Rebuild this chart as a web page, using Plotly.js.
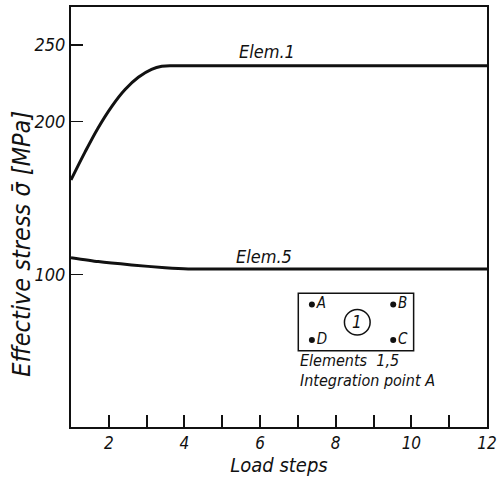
<!DOCTYPE html>
<html>
<head>
<meta charset="utf-8">
<script src="https://cdn.plot.ly/plotly-3.0.1.min.js"></script>
<style>html,body{margin:0;padding:0;background:#fff;}#chart{width:503px;height:477px;}</style>
</head>
<body>
<div id="chart"></div>
<script>
// Elem.1 curve (load step, effective stress MPa)
const elem1Steps = [1, 1.37, 1.72, 2.08, 2.43, 2.78, 3.13, 3.4, 3.7, 4, 6, 8, 10, 12];
const elem1Stress = [161.8, 180, 196, 210, 221, 229, 234.2, 236.2, 236.5, 236.5, 236.5, 236.5, 236.5, 236.5];
// Elem.5 curve
const elem5Steps = [1, 1.72, 2.6, 3.49, 4.1, 6, 8, 10, 12];
const elem5Stress = [110.9, 108.3, 106.1, 104.3, 103.5, 103.5, 103.5, 103.5, 103.5];
// axis ticks
const xTickVals = [2, 3, 4, 5, 6, 7, 8, 9, 10, 11, 12];
const xTickText = ["2", "", "4", "", "6", "", "8", "", "10", "", "12"];
const yTickVals = [100, 200, 250];
const yTickText = ["100", "200", "250"];
// inset sketch: integration points
const insetPtX = [7.37, 9.52, 7.37, 9.52];
const insetPtY = [80.2, 80.2, 57, 57];
const insetPtLabel = ["A", "B", "D", "C"];

const FONT = "'Liberation Sans Narrow', 'DejaVu Sans Condensed', 'Liberation Sans', sans-serif";
const ink = "#111";

const traces = [
  {x: elem1Steps, y: elem1Stress, mode: "lines", line: {color: ink, width: 3, shape: "spline", smoothing: 1}, hoverinfo: "skip"},
  {x: elem5Steps, y: elem5Stress, mode: "lines", line: {color: ink, width: 3, shape: "spline", smoothing: 0.6}, hoverinfo: "skip"},
  {x: insetPtX, y: insetPtY, mode: "markers+text", text: insetPtLabel, textposition: "middle right",
   marker: {color: ink, size: 6}, textfont: {family: FONT, size: 15, color: ink, style: "italic"}, hoverinfo: "skip"}
];

const layout = {
  width: 503, height: 477,
  margin: {l: 71, r: 16, t: 7, b: 50},
  paper_bgcolor: "#fff", plot_bgcolor: "#fff",
  showlegend: false,
  font: {family: FONT, color: ink, size: 18},
  xaxis: {
    range: [1, 12], showgrid: false, zeroline: false,
    showline: true, linecolor: ink, linewidth: 2, mirror: true,
    ticks: "inside", ticklen: 12, tickwidth: 2, tickcolor: ink,
    tickmode: "array", tickvals: xTickVals, ticktext: xTickText,
    tickfont: {family: FONT, size: 17, style: "italic"},
    title: {text: "Load steps", font: {family: FONT, size: 20, style: "italic"}, standoff: 2}
  },
  yaxis: {
    range: [0, 275], showgrid: false, zeroline: false,
    showline: true, linecolor: ink, linewidth: 2, mirror: true,
    ticks: "inside", ticklen: 12, tickwidth: 1.5, tickcolor: ink,
    tickmode: "array", tickvals: yTickVals, ticktext: yTickText,
    tickfont: {family: FONT, size: 18, style: "italic"}
  },
  shapes: [
    {type: "rect", xref: "x", yref: "y", x0: 7.01, x1: 10.06, y0: 50, y1: 87.5, line: {color: ink, width: 1.5}},
    {type: "circle", xref: "x", yref: "y", x0: 8.23, x1: 8.91, y0: 60.2, y1: 77, line: {color: ink, width: 1.5}}
  ],
  annotations: [
    {x: 0, xref: "paper", xanchor: "center", yanchor: "middle", xshift: -49, y: 120, yref: "y", textangle: -90,
     text: "Effective stress σ\u0304 [MPa]", showarrow: false, font: {family: FONT, size: 25, style: "italic"}},
    {x: 6.19, y: 245.6, xref: "x", yref: "y", text: "Elem.1", showarrow: false, font: {family: FONT, size: 18, style: "italic"}},
    {x: 6.1, y: 111.7, xref: "x", yref: "y", text: "Elem.5", showarrow: false, font: {family: FONT, size: 18, style: "italic"}},
    {x: 8.57, y: 68.6, xref: "x", yref: "y", text: "1", showarrow: false, font: {family: FONT, size: 17, style: "italic"}},
    {x: 7.01, y: 43.5, xref: "x", yref: "y", text: "Elements  1,5", xanchor: "left", showarrow: false, font: {family: FONT, size: 16, style: "italic"}},
    {x: 7.01, y: 30.3, xref: "x", yref: "y", text: "Integration point A", xanchor: "left", showarrow: false, font: {family: FONT, size: 16, style: "italic"}}
  ]
};

Plotly.newPlot("chart", traces, layout, {displayModeBar: false, staticPlot: true});
</script>
</body>
</html>
